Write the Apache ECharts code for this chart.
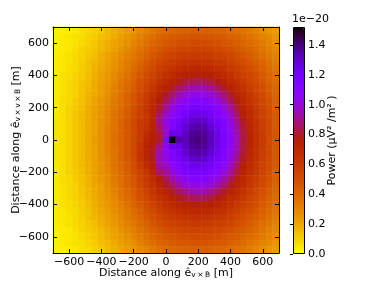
<!DOCTYPE html>
<html><head><meta charset="utf-8">
<script src="https://cdn.jsdelivr.net/npm/echarts@6/dist/echarts.min.js"></script>
<style>html,body{margin:0;padding:0;background:#fff}#c{width:374px;height:282px}</style>
</head><body><div id="c"></div>
<script>
// cell centres (m) along e_vxB (x) and e_vx(vxB) (y)
const xCats = [-680,-640,-600,-560,-520,-480,-440,-400,-360,-320,-280,-240,-200,-160,-120,-80,-40,0,40,80,120,160,200,240,280,320,360,400,440,480,520,560,600,640,680];
const yCats = [680,640,600,560,520,480,440,400,360,320,280,240,200,160,120,80,40,0,-40,-80,-120,-160,-200,-240,-280,-320,-360,-400,-440,-480,-520,-560,-600,-640,-680];
// power in units of 1e-20, rows follow yCats (top to bottom), columns follow xCats
const power = [
[0.03,0.03,0.04,0.05,0.07,0.08,0.10,0.12,0.15,0.18,0.20,0.23,0.25,0.28,0.31,0.34,0.37,0.39,0.40,0.41,0.42,0.43,0.43,0.43,0.42,0.41,0.40,0.39,0.37,0.35,0.33,0.30,0.28,0.25,0.23],
[0.03,0.04,0.05,0.06,0.07,0.09,0.11,0.14,0.16,0.19,0.22,0.24,0.27,0.31,0.34,0.37,0.40,0.42,0.44,0.45,0.46,0.47,0.47,0.47,0.46,0.45,0.44,0.42,0.40,0.38,0.35,0.33,0.30,0.28,0.25],
[0.03,0.04,0.05,0.06,0.08,0.10,0.12,0.15,0.18,0.21,0.23,0.26,0.30,0.33,0.37,0.40,0.43,0.45,0.47,0.49,0.50,0.51,0.51,0.51,0.50,0.49,0.47,0.45,0.43,0.40,0.38,0.36,0.33,0.30,0.27],
[0.03,0.04,0.05,0.07,0.09,0.11,0.13,0.16,0.19,0.22,0.25,0.29,0.32,0.36,0.39,0.43,0.46,0.49,0.51,0.53,0.54,0.55,0.55,0.55,0.54,0.53,0.51,0.49,0.46,0.44,0.41,0.38,0.35,0.32,0.29],
[0.04,0.05,0.06,0.08,0.09,0.12,0.14,0.18,0.21,0.24,0.27,0.31,0.34,0.38,0.42,0.46,0.50,0.53,0.55,0.57,0.58,0.59,0.60,0.59,0.58,0.57,0.55,0.53,0.50,0.47,0.44,0.40,0.37,0.34,0.31],
[0.04,0.05,0.06,0.08,0.10,0.13,0.16,0.19,0.22,0.25,0.29,0.33,0.36,0.40,0.45,0.49,0.53,0.56,0.59,0.61,0.63,0.64,0.65,0.64,0.63,0.61,0.59,0.56,0.53,0.50,0.47,0.43,0.40,0.36,0.33],
[0.04,0.05,0.07,0.08,0.11,0.13,0.17,0.20,0.23,0.26,0.30,0.34,0.38,0.43,0.48,0.52,0.57,0.60,0.64,0.66,0.69,0.70,0.71,0.70,0.69,0.66,0.64,0.60,0.57,0.53,0.50,0.46,0.42,0.38,0.35],
[0.04,0.06,0.07,0.09,0.11,0.14,0.18,0.21,0.24,0.28,0.32,0.36,0.40,0.45,0.50,0.55,0.60,0.65,0.69,0.72,0.75,0.76,0.77,0.76,0.75,0.72,0.69,0.65,0.60,0.56,0.53,0.49,0.44,0.40,0.37],
[0.05,0.06,0.08,0.10,0.12,0.15,0.19,0.22,0.25,0.29,0.34,0.38,0.42,0.48,0.53,0.58,0.65,0.69,0.74,0.78,0.82,0.84,0.85,0.84,0.82,0.78,0.74,0.69,0.65,0.60,0.55,0.51,0.47,0.42,0.38],
[0.05,0.06,0.08,0.10,0.13,0.16,0.19,0.23,0.26,0.31,0.35,0.39,0.44,0.50,0.55,0.62,0.69,0.74,0.80,0.85,0.90,0.94,0.95,0.94,0.90,0.85,0.80,0.74,0.69,0.63,0.58,0.53,0.49,0.44,0.40],
[0.05,0.06,0.08,0.10,0.13,0.17,0.20,0.23,0.27,0.32,0.36,0.41,0.46,0.52,0.58,0.65,0.73,0.80,0.87,0.94,1.00,1.03,1.04,1.03,1.00,0.94,0.87,0.80,0.73,0.67,0.61,0.55,0.51,0.46,0.41],
[0.05,0.07,0.08,0.11,0.14,0.17,0.21,0.24,0.28,0.33,0.37,0.42,0.47,0.54,0.60,0.68,0.77,0.85,0.94,1.02,1.07,1.11,1.12,1.11,1.07,1.02,0.94,0.85,0.77,0.70,0.63,0.58,0.52,0.48,0.43],
[0.05,0.07,0.09,0.11,0.14,0.18,0.21,0.25,0.29,0.34,0.38,0.43,0.49,0.55,0.62,0.69,0.81,0.91,1.01,1.09,1.14,1.17,1.18,1.17,1.14,1.09,1.01,0.91,0.81,0.73,0.66,0.60,0.54,0.49,0.44],
[0.05,0.07,0.09,0.12,0.15,0.18,0.22,0.25,0.30,0.35,0.39,0.44,0.50,0.56,0.61,0.71,0.85,0.97,1.07,1.14,1.19,1.23,1.24,1.23,1.19,1.14,1.07,0.97,0.85,0.76,0.68,0.61,0.55,0.50,0.45],
[0.06,0.07,0.09,0.12,0.15,0.19,0.22,0.26,0.30,0.35,0.40,0.45,0.51,0.58,0.62,0.72,0.90,1.02,1.11,1.18,1.24,1.29,1.30,1.29,1.24,1.18,1.11,1.02,0.89,0.79,0.70,0.63,0.56,0.51,0.46],
[0.06,0.07,0.09,0.12,0.15,0.19,0.22,0.26,0.31,0.35,0.40,0.46,0.52,0.59,0.63,0.74,0.86,1.01,1.14,1.21,1.28,1.33,1.35,1.33,1.28,1.21,1.14,1.04,0.92,0.81,0.71,0.64,0.57,0.52,0.46],
[0.06,0.07,0.09,0.12,0.15,0.19,0.22,0.26,0.31,0.36,0.40,0.46,0.52,0.59,0.68,0.76,0.82,0.98,1.24,1.24,1.31,1.36,1.38,1.36,1.31,1.24,1.15,1.06,0.94,0.82,0.72,0.65,0.58,0.52,0.47],
[0.06,0.07,0.09,0.12,0.15,0.19,0.23,0.26,0.31,0.36,0.40,0.46,0.52,0.59,0.70,0.76,0.80,1.02,1.52,1.34,1.32,1.38,1.40,1.38,1.32,1.24,1.16,1.07,0.95,0.82,0.73,0.65,0.58,0.52,0.47],
[0.06,0.07,0.09,0.12,0.15,0.19,0.22,0.26,0.31,0.36,0.40,0.46,0.52,0.62,0.72,0.78,0.88,1.06,1.22,1.24,1.31,1.36,1.38,1.36,1.31,1.24,1.15,1.06,0.94,0.82,0.72,0.65,0.58,0.52,0.47],
[0.06,0.07,0.09,0.12,0.15,0.19,0.22,0.26,0.31,0.35,0.40,0.46,0.52,0.63,0.72,0.80,0.95,1.04,1.14,1.21,1.28,1.33,1.35,1.33,1.28,1.21,1.14,1.04,0.92,0.81,0.71,0.64,0.57,0.52,0.46],
[0.06,0.07,0.09,0.12,0.15,0.19,0.22,0.26,0.30,0.35,0.40,0.45,0.51,0.62,0.71,0.79,0.95,1.02,1.11,1.18,1.24,1.29,1.30,1.29,1.24,1.18,1.11,1.02,0.89,0.79,0.70,0.63,0.56,0.51,0.46],
[0.05,0.07,0.09,0.12,0.15,0.18,0.22,0.25,0.30,0.35,0.39,0.44,0.50,0.59,0.68,0.77,0.93,0.97,1.07,1.14,1.19,1.23,1.24,1.23,1.19,1.14,1.07,0.97,0.85,0.76,0.68,0.61,0.55,0.50,0.45],
[0.05,0.07,0.09,0.11,0.14,0.18,0.21,0.25,0.29,0.34,0.38,0.43,0.49,0.55,0.62,0.73,0.86,0.91,1.01,1.09,1.14,1.17,1.18,1.17,1.14,1.09,1.01,0.91,0.81,0.73,0.66,0.60,0.54,0.49,0.44],
[0.05,0.07,0.08,0.11,0.14,0.17,0.21,0.24,0.28,0.33,0.37,0.42,0.47,0.54,0.60,0.68,0.77,0.85,0.94,1.02,1.07,1.11,1.12,1.11,1.07,1.02,0.94,0.85,0.77,0.70,0.63,0.58,0.52,0.48,0.43],
[0.05,0.06,0.08,0.10,0.13,0.17,0.20,0.23,0.27,0.32,0.36,0.41,0.46,0.52,0.58,0.65,0.73,0.80,0.87,0.94,1.00,1.03,1.04,1.03,1.00,0.94,0.87,0.80,0.73,0.67,0.61,0.55,0.51,0.46,0.41],
[0.05,0.06,0.08,0.10,0.13,0.16,0.19,0.23,0.26,0.31,0.35,0.39,0.44,0.50,0.55,0.62,0.69,0.74,0.80,0.85,0.90,0.94,0.95,0.94,0.90,0.85,0.80,0.74,0.69,0.63,0.58,0.53,0.49,0.44,0.40],
[0.05,0.06,0.08,0.10,0.12,0.15,0.19,0.22,0.25,0.29,0.34,0.38,0.42,0.48,0.53,0.58,0.65,0.69,0.74,0.78,0.82,0.84,0.85,0.84,0.82,0.78,0.74,0.69,0.65,0.60,0.55,0.51,0.47,0.42,0.38],
[0.04,0.06,0.07,0.09,0.11,0.14,0.18,0.21,0.24,0.28,0.32,0.36,0.40,0.45,0.50,0.55,0.60,0.65,0.69,0.72,0.75,0.76,0.77,0.76,0.75,0.72,0.69,0.65,0.60,0.56,0.53,0.49,0.44,0.40,0.37],
[0.04,0.05,0.07,0.08,0.11,0.13,0.17,0.20,0.23,0.26,0.30,0.34,0.38,0.43,0.48,0.52,0.57,0.60,0.64,0.66,0.69,0.70,0.71,0.70,0.69,0.66,0.64,0.60,0.57,0.53,0.50,0.46,0.42,0.38,0.35],
[0.04,0.05,0.06,0.08,0.10,0.13,0.16,0.19,0.22,0.25,0.29,0.33,0.36,0.40,0.45,0.49,0.53,0.56,0.59,0.61,0.63,0.64,0.65,0.64,0.63,0.61,0.59,0.56,0.53,0.50,0.47,0.43,0.40,0.36,0.33],
[0.04,0.05,0.06,0.08,0.09,0.12,0.14,0.18,0.21,0.24,0.27,0.31,0.34,0.38,0.42,0.46,0.50,0.53,0.55,0.57,0.58,0.59,0.60,0.59,0.58,0.57,0.55,0.53,0.50,0.47,0.44,0.40,0.37,0.34,0.31],
[0.03,0.04,0.05,0.07,0.09,0.11,0.13,0.16,0.19,0.22,0.25,0.29,0.32,0.36,0.39,0.43,0.46,0.49,0.51,0.53,0.54,0.55,0.55,0.55,0.54,0.53,0.51,0.49,0.46,0.44,0.41,0.38,0.35,0.32,0.29],
[0.03,0.04,0.05,0.06,0.08,0.10,0.12,0.15,0.18,0.21,0.23,0.26,0.30,0.33,0.37,0.40,0.43,0.45,0.47,0.49,0.50,0.51,0.51,0.51,0.50,0.49,0.47,0.45,0.43,0.40,0.38,0.36,0.33,0.30,0.27],
[0.03,0.04,0.05,0.06,0.07,0.09,0.11,0.14,0.16,0.19,0.22,0.24,0.27,0.31,0.34,0.37,0.40,0.42,0.44,0.45,0.46,0.47,0.47,0.47,0.46,0.45,0.44,0.42,0.40,0.38,0.35,0.33,0.30,0.28,0.25],
[0.03,0.03,0.04,0.05,0.07,0.08,0.10,0.12,0.15,0.18,0.20,0.23,0.25,0.28,0.31,0.34,0.37,0.39,0.40,0.41,0.42,0.43,0.43,0.43,0.42,0.41,0.40,0.39,0.37,0.35,0.33,0.30,0.28,0.25,0.23]
];
const axisTicks = [-600,-400,-200,0,200,400,600];
const cbTicks = [0,0.2,0.4,0.6,0.8,1.0,1.2,1.4];
const corePoint = [[0,0]];
const vMin = 0, vMax = 1.52;

// gnuplot colormap, reversed
function gnuplotR(f){
  const x = 1 - f;
  const r = Math.sqrt(x), g = x*x*x, b = Math.max(0, Math.sin(2*Math.PI*x));
  return 'rgb(' + Math.round(r*255) + ',' + Math.round(g*255) + ',' + Math.round(b*255) + ')';
}
const cmap = [];
for (let i = 0; i <= 64; i++) cmap.push(gnuplotR(i/64));

const cells = [];
power.forEach((row, j) => row.forEach((v, i) => cells.push([i, j, v])));

const FONT = 'DejaVu Sans';
const fmt = v => v < 0 ? '\u2212' + (-v) : String(v);
const frameAxis = (pos, extra) => Object.assign({
  type: 'value', gridIndex: 0, min: -700, max: 700, position: pos, z: 10,
  nameMoveOverlap: false,
  axisLine: { show: true, onZero: false, lineStyle: { color: '#000', width: 1 } },
  axisTick: { show: true, inside: true, length: 4, customValues: axisTicks, lineStyle: { color: '#000', width: 1 } },
  axisLabel: { show: false },
  splitLine: { show: false }
}, extra);

const chart = echarts.init(document.getElementById('c'), null, { renderer: 'canvas' });
chart.setOption({
  animation: false,
  textStyle: { fontFamily: FONT },
  grid: [
    { left: 53, top: 27, width: 226, height: 226, containLabel: false, outerBoundsMode: 'none' },
    { left: 293, top: 27, width: 11, height: 227, containLabel: false, outerBoundsMode: 'none' }
  ],
  xAxis: [
    { type: 'category', data: xCats, gridIndex: 0, position: 'bottom', show: false },
    frameAxis('bottom', {
      axisLabel: { show: true, customValues: axisTicks, formatter: fmt, fontSize: 11, color: '#000', margin: 4, fontFamily: FONT },
      name: 'Distance along ê{s|v\u2009×\u2009B} [m]', nameLocation: 'middle', nameGap: 15,
      nameTextStyle: { fontSize: 11, color: '#000', fontFamily: FONT, rich: { s: { fontSize: 7.5, verticalAlign: 'bottom', lineHeight: 8, fontFamily: FONT, color: '#000' } } }
    }),
    frameAxis('top', {}),
    { type: 'value', gridIndex: 1, show: false, min: 0, max: 1 }
  ],
  yAxis: [
    { type: 'category', data: yCats, inverse: true, gridIndex: 0, position: 'left', show: false },
    frameAxis('left', {
      axisLabel: { show: true, customValues: axisTicks, formatter: fmt, fontSize: 11, color: '#000', margin: 4, fontFamily: FONT },
      name: 'Distance along ê{s|v\u2009×\u2009v\u2009×\u2009B} [m]', nameLocation: 'middle', nameGap: 31,
      nameTextStyle: { fontSize: 11, color: '#000', fontFamily: FONT, rich: { s: { fontSize: 7.5, verticalAlign: 'bottom', lineHeight: 8, fontFamily: FONT, color: '#000' } } }
    }),
    frameAxis('right', {}),
    {
      type: 'value', gridIndex: 1, min: vMin, max: vMax, position: 'right', z: 10,
      nameMoveOverlap: false,
      axisLine: { show: false },
      axisTick: { show: true, inside: true, length: 3, customValues: cbTicks, lineStyle: { color: '#000' } },
      axisLabel: { show: true, customValues: cbTicks, formatter: v => v.toFixed(1), fontSize: 11, color: '#000', margin: 4, fontFamily: FONT },
      splitLine: { show: false },
      name: 'Power (μV² /m² )', nameLocation: 'middle', nameGap: 23,
      nameTextStyle: { fontSize: 11, color: '#000', fontFamily: FONT }
    }
  ],
  visualMap: {
    type: 'continuous', min: vMin, max: vMax, seriesIndex: 0, show: true,
    left: 293, top: 27, itemWidth: 11, itemHeight: 227, padding: 0,
    calculable: false, hoverLink: false, inRange: { color: cmap }
  },
  graphic: [
    { type: 'text', left: 292, top: 14, style: { text: '1e\u221220', fontSize: 11, fill: '#000', fontFamily: FONT } },
    { type: 'rect', z: 100, shape: { x: 293.5, y: 27.5, width: 11, height: 226 }, style: { fill: null, stroke: '#000', lineWidth: 1 } }
  ],
  series: [
    { type: 'heatmap', xAxisIndex: 0, yAxisIndex: 0, data: cells, silent: true },
    { type: 'scatter', xAxisIndex: 1, yAxisIndex: 1, data: corePoint, z: 5, silent: true,
      symbol: 'path://M-1,-0.15H1V0.15H-1Z M-0.15,-1H0.15V1H-0.15Z', symbolSize: 6,
      itemStyle: { color: '#2233ff' } }
  ]
});
</script>
</body></html>
